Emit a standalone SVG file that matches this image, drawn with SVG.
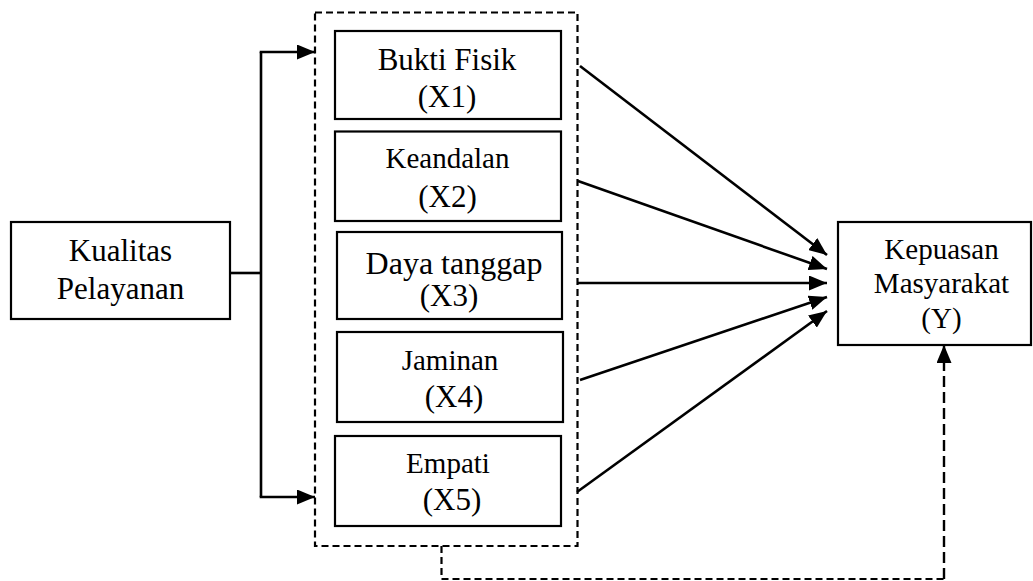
<svg xmlns="http://www.w3.org/2000/svg" width="1033" height="581" viewBox="0 0 1033 581">
  <style>
    .box { fill: #ffffff; stroke: #000000; stroke-width: 2.2; }
    .lbl { font-family: "Liberation Serif", "DejaVu Serif", serif; fill: #000000; text-anchor: middle; }
    .wire { fill: none; stroke: #000000; stroke-width: 2.6; }
    .dash { fill: none; stroke: #000000; stroke-width: 2.2; stroke-dasharray: 7 4; }
    .dash2 { fill: none; stroke: #000000; stroke-width: 2.4; stroke-dasharray: 11 5; }
  </style>
  <defs>
    <marker id="arrow" markerUnits="userSpaceOnUse" markerWidth="18" markerHeight="15" refX="18" refY="7.5" orient="auto">
      <path d="M0,0 L18,7.5 L0,15 z" fill="#000000"/>
    </marker>
  </defs>

  <rect width="1033" height="581" fill="#ffffff"/>

  <!-- dashed frame grouping the five dimensions -->
  <g id="dimension-frame">
    <rect class="dash" x="315" y="12.5" width="262.5" height="533.5"/>
  </g>

  <g id="kualitas">
    <rect class="box" x="11" y="222" width="219" height="97"/>
    <text class="lbl" x="120.5" y="261" font-size="31">Kualitas</text>
    <text class="lbl" x="120.5" y="299" font-size="31">Pelayanan</text>
  </g>

  <g id="x1">
    <rect class="box" x="335" y="31" width="226" height="88"/>
    <text class="lbl" x="447" y="70" font-size="31">Bukti Fisik</text>
    <text class="lbl" x="447" y="107" font-size="31">(X1)</text>
  </g>

  <g id="x2">
    <rect class="box" x="335" y="131.5" width="226" height="89.5"/>
    <text class="lbl" x="447.5" y="168" font-size="29">Keandalan</text>
    <text class="lbl" x="447.5" y="207" font-size="31">(X2)</text>
  </g>

  <g id="x3">
    <rect class="box" x="337" y="232" width="225" height="87"/>
    <text class="lbl" x="454" y="274" font-size="32">Daya tanggap</text>
    <text class="lbl" x="449" y="306" font-size="31">(X3)</text>
  </g>

  <g id="x4">
    <rect class="box" x="337" y="332" width="226" height="90"/>
    <text class="lbl" x="450" y="370" font-size="29">Jaminan</text>
    <text class="lbl" x="454" y="407" font-size="31">(X4)</text>
  </g>

  <g id="x5">
    <rect class="box" x="335" y="436" width="226" height="90"/>
    <text class="lbl" x="448" y="473" font-size="29">Empati</text>
    <text class="lbl" x="452" y="510" font-size="31">(X5)</text>
  </g>

  <g id="kepuasan">
    <rect class="box" x="838" y="222" width="193" height="123"/>
    <text class="lbl" x="941.5" y="259" font-size="29">Kepuasan</text>
    <text class="lbl" x="941.5" y="293" font-size="29">Masyarakat</text>
    <text class="lbl" x="941.5" y="328" font-size="29">(Y)</text>
  </g>

  <g id="connectors">
    <!-- fork from Kualitas Pelayanan into the frame -->
    <path class="wire" d="M230,273 H261"/>
    <path class="wire" d="M261,52 V497"/>
    <path class="wire" d="M259.7,52 H315" marker-end="url(#arrow)"/>
    <path class="wire" d="M259.7,497 H315" marker-end="url(#arrow)"/>

    <!-- dimensions to Kepuasan Masyarakat -->
    <path class="wire" d="M580,66 L827,255" marker-end="url(#arrow)"/>
    <path class="wire" d="M578,181 L827,269" marker-end="url(#arrow)"/>
    <path class="wire" d="M577,283 L827,283" marker-end="url(#arrow)"/>
    <path class="wire" d="M580,380 L827,297" marker-end="url(#arrow)"/>
    <path class="wire" d="M577,492 L827,311" marker-end="url(#arrow)"/>

    <!-- simultaneous effect of the frame on Y -->
    <path class="dash" d="M441.5,546 V579 H944"/>
    <path class="dash2" d="M944,579 V345" marker-end="url(#arrow)"/>
  </g>
</svg>
